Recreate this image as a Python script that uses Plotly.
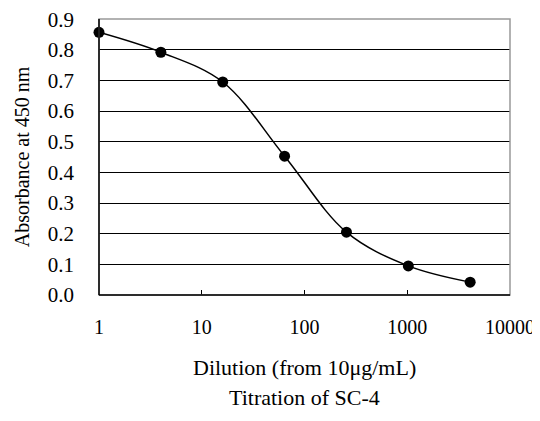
import plotly.graph_objects as go

dilution = [1, 4, 16, 64, 256, 1024, 4096]
absorbance = [0.857, 0.792, 0.695, 0.453, 0.205, 0.095, 0.042]
y_ticks = [0.0, 0.1, 0.2, 0.3, 0.4, 0.5, 0.6, 0.7, 0.8, 0.9]
x_ticks = [1, 10, 100, 1000, 10000]
x_tick_labels = ["1", "10", "100", "1000", "10000"]

FONT = "Liberation Serif"
fig = go.Figure()
fig.add_trace(go.Scatter(
    x=dilution, y=absorbance, mode="lines+markers",
    line=dict(color="black", width=1.5, shape="spline", smoothing=1.0),
    marker=dict(color="black", size=11),
    cliponaxis=False, showlegend=False,
))

fig.update_layout(
    width=532, height=405,
    margin=dict(l=91, r=30, t=11, b=118),
    paper_bgcolor="white", plot_bgcolor="white",
    font=dict(family=FONT, size=21, color="black"),
    xaxis=dict(type="log", range=[0, 4], tickvals=x_ticks, ticktext=x_tick_labels,
               showgrid=False, zeroline=False, ticks="inside", ticklen=5,
               tickcolor="black", tickwidth=1, ticklabelstandoff=18,
               tickfont=dict(size=20),
               showline=False, automargin=False),
    yaxis=dict(range=[0, 0.9005], tickvals=y_ticks, tickformat=".1f",
               showgrid=True, gridcolor="black", gridwidth=1, zeroline=False,
               ticks="", ticklabelstandoff=24, showline=False,
               ticklabeloverflow="allow", automargin=False),
    shapes=[
        dict(type="rect", xref="paper", yref="paper", x0=0, x1=1, y0=0, y1=1,
             line=dict(color="#999999", width=1.5), layer="above"),
        dict(type="line", xref="paper", yref="paper", x0=0, x1=0, y0=0, y1=1,
             line=dict(color="black", width=1.5), layer="above"),
        dict(type="line", xref="paper", yref="paper", x0=0, x1=1, y0=0, y1=0,
             line=dict(color="black", width=1.5), layer="above"),
    ],
    annotations=[
        dict(text="Absorbance at 450 nm", xref="paper", yref="paper",
             x=-0.187, y=0.5, textangle=-90, showarrow=False,
             xanchor="center", yanchor="middle", font=dict(size=20)),
        dict(text="Dilution (from 10μg/mL)", xref="paper", yref="paper",
             x=0.5, y=-0.264, showarrow=False,
             xanchor="center", yanchor="middle", font=dict(size=22)),
        dict(text="Titration of SC-4", xref="paper", yref="paper",
             x=0.5, y=-0.373, showarrow=False,
             xanchor="center", yanchor="middle", font=dict(size=22)),
    ],
)
fig.write_html("out.html")
